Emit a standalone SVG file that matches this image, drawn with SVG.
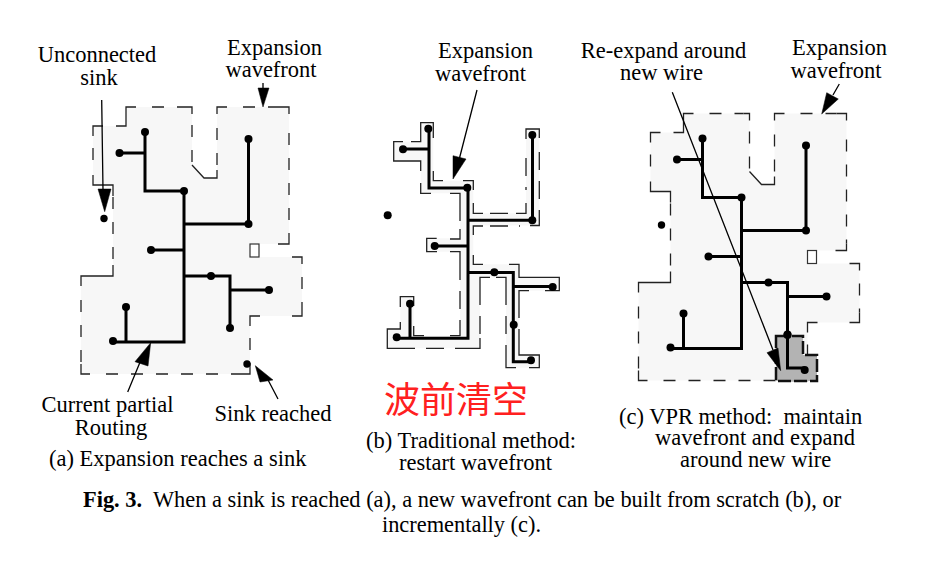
<svg xmlns="http://www.w3.org/2000/svg" xmlns:xlink="http://www.w3.org/1999/xlink" width="929" height="562" viewBox="0 0 929 562">
<style>
text{font-family:"Liberation Serif","Times New Roman",serif;font-size:22.500px;fill:#000}
.m{text-anchor:middle}
.c{font-size:22.400px}
.w{fill:none;stroke:#000;stroke-width:3}
.f{fill:#f7f7f7;stroke:none;fill-rule:evenodd}
.s{fill:none;stroke:#222;stroke-width:1.300}
.o{fill:none;stroke:#222;stroke-width:1.300;stroke-dasharray:12 13}
.q{fill:none;stroke:#222;stroke-width:1.300;stroke-dasharray:18 11}
.l{fill:none;stroke:#000;stroke-width:1.300}
.d{fill:#000}
.h{fill:#000;stroke:#000;stroke-width:0.500}
</style>
<defs>
<g id="outline">
<path class="f" d="M93,126H126V107H192V165L204,178H217V107H289V244H259V257H302V316H250V374H81V276H113V185H93Z"/>
<path class="s" d="M93,136V126H103M116,126H126V107H136M186,107H192V114M192,165L204,178H217V170M217,114V107H227M279,107H289V114M289,237V244H278M292,257H302V264M302,306V316H292M260,316H250V326M250,364V374H240M90,374H81V364M81,286V276H113V265M113,196V185H93V175"/>
<path class="o" d="M93,148V172M152,107H186M192,125V165M217,165V120M243,107H279M289,133V237M302,277V306M250,338V364M106,374H240M81,300V364M113,197V265"/>
</g>
<rect id="hole" x="250" y="244" width="9" height="13" fill="#fff" stroke="#333" stroke-width="1.200"/>
<g id="tree">
<path class="w" d="M145,132V191H184V342H113M119,153H145M184,224H248.500M248.500,139V224M151,250H184M184,276H230V328M230,290H269M126,307V342"/>
<g class="d">
<circle cx="145" cy="132" r="4"/><circle cx="119.500" cy="153" r="4"/><circle cx="248.500" cy="139" r="4"/><circle cx="184" cy="191" r="4"/><circle cx="248.500" cy="224" r="4"/><circle cx="151" cy="250" r="4"/><circle cx="211" cy="276" r="4"/><circle cx="269" cy="290" r="4"/><circle cx="230" cy="328" r="4"/><circle cx="126" cy="307" r="4"/><circle cx="113" cy="341" r="4"/><circle cx="104" cy="218.500" r="3.700"/>
</g>
</g>
</defs>

<g id="panel-a">
<use xlink:href="#outline"/><use xlink:href="#hole"/><use xlink:href="#tree"/>
<circle class="d" cx="247" cy="364" r="3.700"/>
</g>

<g id="panel-b">
<path class="f" d="M420.700,122.700H433.300V180.700H473.300V213.300H526V129H539.300V225.500H473.300V264.300H519V277.300H559.300V290.700H519V355H539.300V367.700H506V277.300H480V348.300H387.300V329H400.300V296.700H413.700V335.700H460V251.700H426.700V238.300H460V193.300H420.700V161H393.700V141.700H420.700Z"/>
<path class="s" d="M420.700,132V122.700H433.300V138M433.300,171V180.700H443M463,180.700H473.300V190M473.300,203V213.300H483M516,213.300H526V203M526,139V129H539.300V138M539.300,215V225.500H530M483,226H473.300V235M473.300,255V264.300H483M509,264.300H519V277.300H559.300V290.700H545M529,290.700H519V300M519,345V355H539.300V367.700H529M516,367.700H506V358M506,287V277.300H496M490,277.300H480V287M480,338V348.300H470M397,348.300H387.300V329H400.300V322M400.300,307V296.700H413.700V306M413.700,326V335.700H424M450,335.700H460V326M460,262V251.700H450M437,251.700H426.700V238.300H436.700M450,239H460V229M460,203V193.300H450M431,193.300H420.700V183M420.700,171V161H393.700V141.700H403M411,141.700H420.700V132"/>
<path class="q" d="M526,158V190M539.300,152V215M490,226H520M519,300V345M506,287V358M480,287V338M460,262V326M397,348.300H470M490,213.300H510M460,203V229"/>
<path class="w" d="M429,129V188H468V338.300H397M403,149H429M532.500,135V220.300H468M435,246H468M468,272.500H513.300V361.700H531M513.300,286.500H552.700M410,304V338.300"/>
<g class="d">
<circle cx="428.300" cy="128.700" r="4"/><circle cx="403" cy="149.300" r="4"/><circle cx="532.300" cy="135" r="4"/><circle cx="467.300" cy="187.700" r="4"/><circle cx="532.300" cy="220.300" r="4"/><circle cx="434.700" cy="246" r="4"/><circle cx="387.700" cy="215.300" r="4"/><circle cx="494.300" cy="272.300" r="4"/><circle cx="552.700" cy="287" r="4"/><circle cx="513.700" cy="324.700" r="4"/><circle cx="531" cy="360.300" r="4"/><circle cx="410" cy="303.700" r="4"/><circle cx="396.700" cy="337.300" r="4"/>
</g>
</g>

<g id="panel-c">
<g transform="translate(557.500 6.500)"><use xlink:href="#outline"/><use xlink:href="#hole"/><use xlink:href="#tree"/></g>
<path d="M776,336H803V355H817V381H776Z" fill="#b3b3b3" stroke="#111" stroke-width="2.500" stroke-dasharray="13 3"/>
<path class="w" d="M787.500,336V368H804"/>
<circle class="d" cx="787.500" cy="335" r="4"/><circle class="d" cx="804.700" cy="370" r="4"/>
</g>

<g id="connectors">
<path class="l" d="M263,83V90M101.700,100L103,190M127.700,392L143,355M278,399L266,376M477,90L459,160M672.300,92.300L773,350M839.300,84L833,95"/>
<polygon class="h" points="263,107 258,88 269,88"/>
<polygon class="h" points="150.700,342.700 135,361.700 148,366"/>
<polygon class="h" points="255.300,365.700 260,382 273,380"/>
<polygon class="h" points="453,179 453,155.700 466,159"/>
<polygon class="h" points="780.700,370.700 767,352.700 778,348"/>
<polygon class="h" points="821.700,114 826.700,92.700 838.300,99"/>
<polygon class="h" points="104.700,211.700 98,189 111,189"/>
</g>

<g id="labels">
<text class="m" x="97" y="62">Unconnected</text><text class="m" x="99" y="85">sink</text>
<text class="m" x="274.500" y="55">Expansion</text><text class="m" x="271" y="77">wavefront</text>
<text class="m" x="485.500" y="58">Expansion</text><text class="m" x="480.500" y="81">wavefront</text>
<text class="m" x="663.500" y="58">Re-expand around</text><text class="m" x="661.500" y="80">new wire</text>
<text class="m" x="839.500" y="55">Expansion</text><text class="m" x="836" y="78">wavefront</text>
<text class="m" x="107.500" y="412">Current partial</text><text class="m" x="111" y="435">Routing</text>
<text class="m" x="273" y="421">Sink reached</text>
<text x="49" y="466">(a) Expansion reaches a sink</text>
<text x="366" y="448">(b) Traditional method:</text><text x="399" y="470">restart wavefront</text>
<text x="619" y="424">(c) VPR method:&#160; maintain</text><text x="655" y="445">wavefront and expand</text><text x="680" y="467">around new wire</text>
<text x="384" y="413" style="font-family:'Noto Sans CJK SC','Noto Sans',sans-serif;font-size:36px;fill:#ff2020">波前清空</text>
<text class="c" x="83" y="507"><tspan font-weight="bold">Fig. 3.</tspan>&#160; When a sink is reached (a), a new wavefront can be built from scratch (b), or</text>
<text class="m c" x="461.500" y="532">incrementally (c).</text>
</g>
</svg>
